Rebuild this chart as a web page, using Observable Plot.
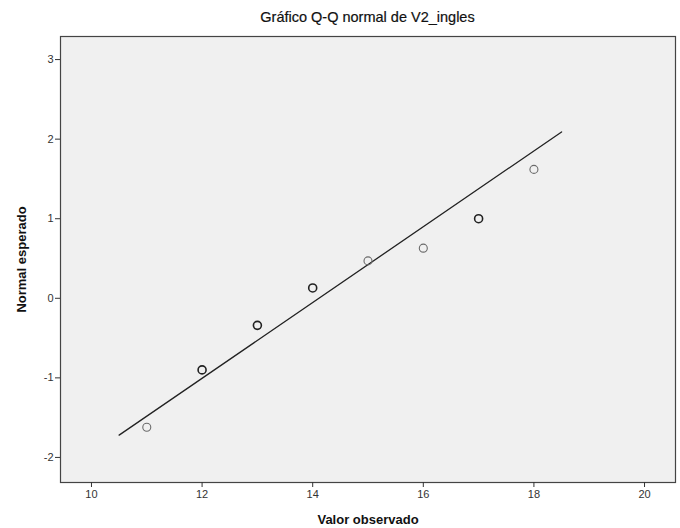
<!DOCTYPE html>
<html><head><meta charset="utf-8">
<script src="https://cdn.jsdelivr.net/npm/d3@7"></script>
<script src="https://cdn.jsdelivr.net/npm/@observablehq/plot@0.6"></script>
<style>
body{margin:0;background:#fff;font-family:"Liberation Sans",Arial,sans-serif}
#wrap{position:relative;width:680px;height:528px}
#title{position:absolute;left:60px;width:615px;top:9px;text-align:center;font-size:14.5px;color:#111;font-family:"Liberation Sans",Arial,sans-serif;-webkit-text-stroke:0.2px #111}
#wrap svg{position:absolute;left:0;top:0}
</style></head><body>
<div id="wrap"><div id="title">Gráfico Q-Q normal de V2_ingles</div></div>
<script>
const observed = [11, 12, 13, 14, 15, 16, 17, 18];
const expected = [-1.62, -0.90, -0.34, 0.13, 0.47, 0.63, 1.00, 1.62];
const counts = [1, 2, 2, 2, 1, 1, 2, 1];
const lineX = [10.5, 18.5];
const lineY = [-1.72, 2.09];
const xTicks = [10, 12, 14, 16, 18, 20];
const yTicks = [-2, -1, 0, 1, 2, 3];

const pts = observed.map((x, i) => ({x, y: expected[i], n: counts[i]}));
const line = lineX.map((x, i) => ({x, y: lineY[i]}));
const fmt = d => String(d);

const chart = Plot.plot({
  width: 680,
  height: 528,
  marginLeft: 60,
  marginRight: 5,
  marginTop: 36,
  marginBottom: 46,
  style: {fontFamily: '"Liberation Sans", Arial, sans-serif', fontSize: "11px", background: "transparent"},
  x: {domain: [9.44, 20.56], ticks: xTicks, label: null},
  y: {domain: [-2.315, 3.29], ticks: yTicks, label: null},
  marks: [
    Plot.frame({fill: "#f0f0f0", stroke: "none"}),
    Plot.line(line, {x: "x", y: "y", stroke: "#222", strokeWidth: 1.3}),
    Plot.dot(pts, {x: "x", y: "y", r: 4, fill: "none",
      stroke: d => d.n > 1 ? "#222" : "#6a6a6a",
      strokeWidth: d => d.n > 1 ? 1.6 : 1.1}),
    Plot.frame({stroke: "#444", strokeWidth: 1.2}),
    Plot.axisX({ticks: xTicks, tickFormat: fmt, tickSize: 5, tickPadding: 3, stroke: "#333", color: "#333",
      label: "Valor observado", labelAnchor: "center", labelArrow: "none", labelOffset: 41,
      fontSize: 11}),
    Plot.axisY({ticks: yTicks, tickFormat: fmt, tickSize: 5, tickPadding: 2, stroke: "#333", color: "#333",
      label: "Normal esperado", labelAnchor: "center", labelArrow: "none", labelOffset: 44,
      fontSize: 11})
  ]
});
chart.querySelectorAll("g[aria-label='x-axis label'] text, g[aria-label='y-axis label'] text").forEach(t => {
  t.setAttribute("font-weight", "bold");
  t.setAttribute("font-size", "13px");
  t.setAttribute("fill", "#111");
});
document.getElementById("wrap").appendChild(chart);
</script>
</body></html>
